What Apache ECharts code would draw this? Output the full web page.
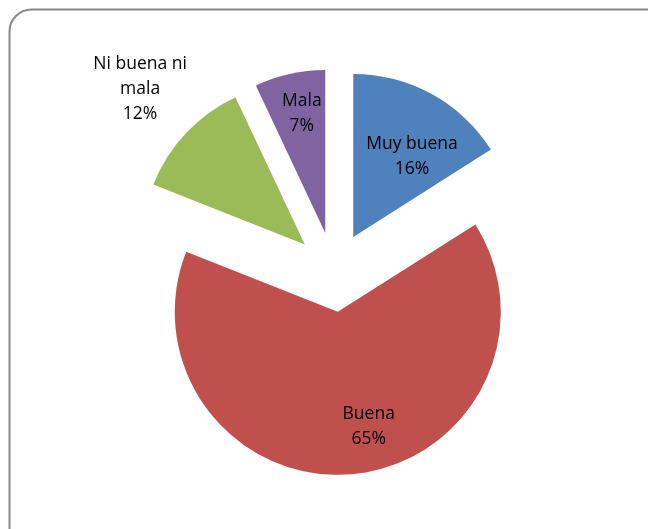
<!DOCTYPE html>
<html>
<head>
<meta charset="utf-8" />
<script src="https://cdn.jsdelivr.net/npm/echarts@6/dist/echarts.min.js"></script>
<style>
  html, body { margin: 0; padding: 0; background: #fff; }
  #chart { width: 648px; height: 529px; }
</style>
</head>
<body>
<div id="chart"></div>
<script>
// datos del gráfico
var categorias = ['Muy buena', 'Buena', 'Ni buena ni\nmala', 'Mala'];
var valores = [16, 65, 12, 7];
var colores = ['#4F81BD', '#C0504D', '#9BBB59', '#8064A2'];

// desplazamiento de las etiquetas (ajuste fino)
var etiquetaDx = [18, 23, 0, -5];
var etiquetaDy = [-6, 31, -34, -37];

var myChart = echarts.init(document.getElementById('chart'));

var datos = categorias.map(function (c, i) {
    var item = {
        name: c,
        value: valores[i],
        selected: true,
        itemStyle: { color: colores[i] }
    };
    if (i === 2) {
        item.label = { position: 'outside' };
        item.labelLine = { show: false };
    }
    return item;
});

myChart.setOption({
    animation: false,
    graphic: [{
        type: 'rect',
        shape: { x: 9.5, y: 9.5, width: 660, height: 540, r: 22 },
        style: { fill: 'none', stroke: '#878787', lineWidth: 2 }
    }],
    series: [{
        type: 'pie',
        center: [334, 272],
        radius: 163,
        startAngle: 90,
        clockwise: true,
        selectedMode: 'multiple',
        selectedOffset: 40,
        emphasis: { disabled: true },
        label: {
            show: true,
            position: 'inside',
            formatter: function (p) { return p.name + '\n' + p.value + '%'; },
            color: '#000',
            fontFamily: 'Open Sans',
            fontSize: 17.5,
            lineHeight: 25,
            align: 'center'
        },
        labelLayout: function (p) {
            return {
                dx: etiquetaDx[p.dataIndex],
                dy: etiquetaDy[p.dataIndex],
                align: 'center'
            };
        },
        data: datos
    }]
});
</script>
</body>
</html>
